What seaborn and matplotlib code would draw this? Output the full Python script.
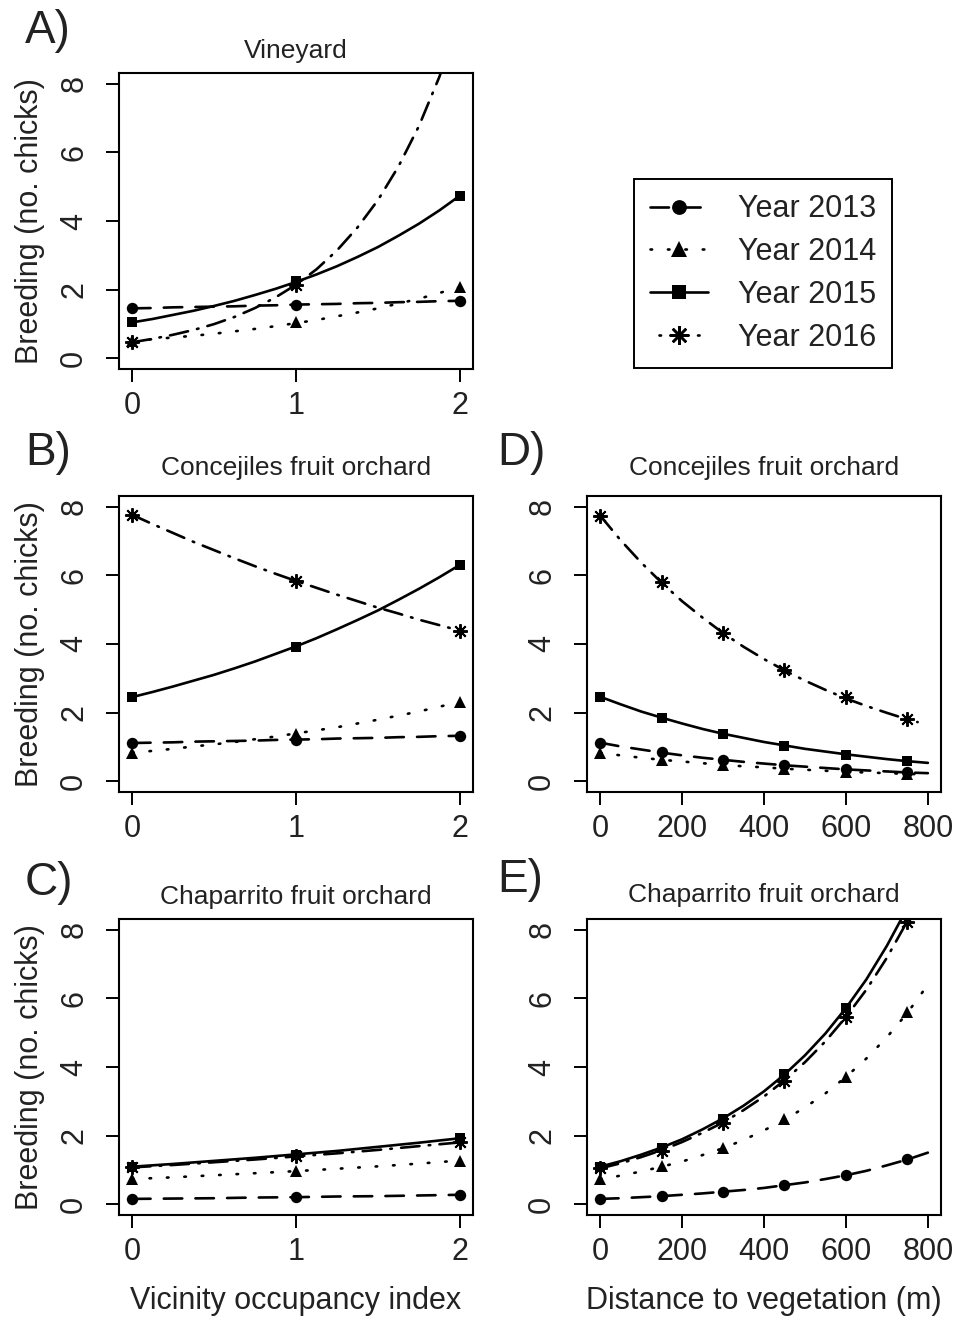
import matplotlib
matplotlib.use("Agg")
import matplotlib.pyplot as plt
from matplotlib.lines import Line2D
import seaborn as sns

sns.set_style("ticks")
plt.rcParams["font.family"] = ["Liberation Sans", "DejaVu Sans"]
TXT = "#222222"

years = ["Year 2013", "Year 2014", "Year 2015", "Year 2016"]

# marker positions
occ_x = [0, 1, 2]
dist_x = [0, 150, 300, 450, 600, 750]
# fitted curve positions
occ_cx = [0, 0.125, 0.25, 0.375, 0.5, 0.625, 0.75, 0.875, 1,
          1.125, 1.25, 1.375, 1.5, 1.625, 1.75, 1.875, 2]
occ_cx9 = [0, 0.25, 0.5, 0.75, 1, 1.25, 1.5, 1.75, 2]
dist_cx = [0, 50, 100, 150, 200, 250, 300, 350, 400, 450, 500, 550, 600, 650, 700, 750, 800]
dist_cx16 = [0, 50, 100, 150, 200, 250, 300, 350, 400, 450, 500, 550, 600, 650, 700, 750, 775]

# A) Vineyard - vicinity occupancy
vin_pts = [[1.45, 1.56, 1.67], [0.50, 1.04, 2.07], [1.04, 2.25, 4.74], [0.46, 2.14, 9.94]]
vin_cur = [
    [1.45, 1.46, 1.48, 1.49, 1.50, 1.51, 1.53, 1.54, 1.56, 1.57, 1.58, 1.60, 1.61, 1.63, 1.64, 1.66, 1.67],
    [0.50, 0.55, 0.60, 0.65, 0.71, 0.78, 0.85, 0.93, 1.02, 1.11, 1.22, 1.33, 1.45, 1.59, 1.73, 1.90, 2.07],
    [1.04, 1.14, 1.26, 1.38, 1.52, 1.67, 1.84, 2.02, 2.22, 2.44, 2.68, 2.95, 3.24, 3.57, 3.92, 4.31, 4.74],
    [0.46, 0.56, 0.68, 0.82, 0.99, 1.20, 1.46, 1.77, 2.14, 2.59, 3.14, 3.81, 4.61, 5.59, 6.77, 8.21, 9.94],
]
# B) Concejiles - vicinity occupancy
con_occ_pts = [[1.11, 1.21, 1.32], [0.83, 1.37, 2.31], [2.45, 3.92, 6.31], [7.77, 5.83, 4.39]]
con_occ_cur = [
    [1.11, 1.12, 1.13, 1.15, 1.16, 1.17, 1.18, 1.20, 1.21, 1.22, 1.24, 1.25, 1.26, 1.28, 1.29, 1.31, 1.32],
    [0.83, 0.88, 0.94, 1.01, 1.07, 1.14, 1.22, 1.30, 1.39, 1.48, 1.57, 1.68, 1.79, 1.91, 2.03, 2.17, 2.31],
    [2.45, 2.60, 2.76, 2.93, 3.10, 3.29, 3.49, 3.71, 3.93, 4.17, 4.43, 4.70, 4.98, 5.29, 5.61, 5.95, 6.31],
    [7.77, 7.50, 7.24, 6.98, 6.74, 6.50, 6.27, 6.05, 5.84, 5.64, 5.44, 5.25, 5.06, 4.89, 4.71, 4.55, 4.39],
]
# C) Chaparrito - vicinity occupancy
cha_occ_pts = [[0.15, 0.20, 0.27], [0.73, 0.96, 1.27], [1.09, 1.44, 1.92], [1.07, 1.39, 1.80]]
cha_occ_cur = [
    [0.15, 0.16, 0.17, 0.19, 0.20, 0.22, 0.23, 0.25, 0.27],
    [0.73, 0.78, 0.84, 0.90, 0.96, 1.03, 1.10, 1.18, 1.27],
    [1.09, 1.17, 1.26, 1.35, 1.45, 1.55, 1.67, 1.79, 1.92],
    [1.07, 1.14, 1.22, 1.30, 1.39, 1.48, 1.58, 1.69, 1.80],
]
# D) Concejiles - distance to vegetation
con_dist_pts = [
    [1.12, 0.84, 0.62, 0.46, 0.35, 0.26],
    [0.82, 0.62, 0.47, 0.36, 0.27, 0.21],
    [2.46, 1.84, 1.37, 1.02, 0.77, 0.58],
    [7.75, 5.80, 4.33, 3.24, 2.44, 1.80],
]
con_dist_cur = [
    [1.12, 1.01, 0.92, 0.83, 0.75, 0.68, 0.62, 0.56, 0.51, 0.46, 0.42, 0.38, 0.34, 0.31, 0.28, 0.25, 0.23],
    [0.82, 0.75, 0.68, 0.62, 0.57, 0.52, 0.47, 0.43, 0.40, 0.36, 0.33, 0.30, 0.27, 0.25, 0.23, 0.21, 0.19],
    [2.46, 2.24, 2.03, 1.85, 1.68, 1.52, 1.38, 1.26, 1.14, 1.04, 0.94, 0.86, 0.78, 0.71, 0.64, 0.58, 0.53],
    [7.75, 7.03, 6.38, 5.79, 5.25, 4.77, 4.32, 3.92, 3.56, 3.23, 2.93, 2.66, 2.41, 2.19, 1.99, 1.80, 1.72],
]
# E) Chaparrito - distance to vegetation
cha_dist_pts = [
    [0.15, 0.23, 0.36, 0.56, 0.86, 1.31],
    [0.72, 1.12, 1.65, 2.48, 3.70, 5.60],
    [1.09, 1.65, 2.48, 3.80, 5.72, 8.70],
    [1.04, 1.56, 2.38, 3.60, 5.45, 8.22],
]
cha_dist_cur = [
    [0.15, 0.17, 0.20, 0.23, 0.27, 0.31, 0.36, 0.41, 0.47, 0.55, 0.63, 0.73, 0.84, 0.97, 1.13, 1.30, 1.50],
    [0.72, 0.83, 0.95, 1.09, 1.24, 1.43, 1.63, 1.87, 2.15, 2.46, 2.82, 3.23, 3.71, 4.25, 4.87, 5.58, 6.40],
    [1.09, 1.25, 1.44, 1.65, 1.89, 2.18, 2.50, 2.87, 3.29, 3.78, 4.34, 4.98, 5.72, 6.56, 7.54, 8.65, 9.93],
    [1.04, 1.19, 1.37, 1.57, 1.81, 2.08, 2.38, 2.74, 3.14, 3.61, 4.14, 4.75, 5.46, 6.26, 7.19, 8.26, 9.48],
]

styles = [
    dict(ls=(0, (7, 5)), leg_ls=(0, (7, 5)), marker="o", ms=8.2, mew=0),
    dict(ls=(0, (0.6, 6)), leg_ls=(0, (0.6, 6)), marker="^", ms=8.4, mew=0),
    dict(ls="-", leg_ls="-", marker="s", ms=7.8, mew=0),
    dict(ls=(0, (7, 3.5, 0.6, 3.5)), leg_ls=(7.1, (7, 3.5, 0.6, 3.5)), marker=(8, 2, 0), ms=10.5, mew=1.4),
]

fig = plt.figure(figsize=(9.66, 13.18), dpi=100)
W, H = 966, 1318


def add_ax(left, top, right, bottom):
    return fig.add_axes([left / W, 1 - bottom / H, (right - left) / W, (bottom - top) / H])


def panel(ax, px, pts, cx, curves, xlim, xticks, title, tpad, ylabel=True, cx_last=None):
    for i in range(4):
        st = styles[i]
        xs = cx_last if (cx_last is not None and i == 3) else cx
        sns.lineplot(x=xs, y=curves[i], ax=ax, color="black", linewidth=1.9,
                     linestyle=st["ls"], dash_capstyle="round", estimator=None, sort=False)
        sns.lineplot(x=px, y=pts[i], ax=ax, color="black", linestyle="none", marker=st["marker"],
                     markersize=st["ms"], markerfacecolor="black", markeredgecolor="black",
                     markeredgewidth=st["mew"], estimator=None, sort=False)
    ax.set_xlim(*xlim)
    ax.set_ylim(-0.32, 8.32)
    ax.set_xticks(xticks)
    ax.set_xticklabels([str(t) for t in xticks])
    ax.set_yticks([0, 2, 4, 6, 8])
    ax.set_yticklabels(["0", "2", "4", "6", "8"], rotation=90, va="center")
    ax.tick_params(axis="both", length=9.5, width=1.4, labelsize=22, colors="black", labelcolor=TXT)
    ax.tick_params(axis="x", pad=6)
    ax.tick_params(axis="y", pad=12)
    for s in ax.spines.values():
        s.set_visible(True)
        s.set_linewidth(1.5)
        s.set_color("black")
    ax.set_title(title, fontsize=19, color=TXT, pad=tpad)
    if ylabel:
        ax.set_ylabel("Breeding (no. chicks)", fontsize=22, color=TXT, labelpad=10)
    else:
        ax.set_ylabel("")
    ax.set_xlabel("")


axA = add_ax(119, 73, 473, 369)
axB = add_ax(119, 496, 473, 792)
axC = add_ax(119, 919, 473, 1215)
axD = add_ax(587, 496, 941, 792)
axE = add_ax(587, 919, 941, 1215)

occ_lim = (-0.08, 2.08)
dist_lim = (-32, 832)
panel(axA, occ_x, vin_pts, occ_cx, vin_cur, occ_lim, [0, 1, 2], "Vineyard", 11)
panel(axB, occ_x, con_occ_pts, occ_cx, con_occ_cur, occ_lim, [0, 1, 2], "Concejiles fruit orchard", 15)
panel(axC, occ_x, cha_occ_pts, occ_cx9, cha_occ_cur, occ_lim, [0, 1, 2], "Chaparrito fruit orchard", 11)
panel(axD, dist_x, con_dist_pts, dist_cx, con_dist_cur, dist_lim, [0, 200, 400, 600, 800],
      "Concejiles fruit orchard", 15, ylabel=False, cx_last=dist_cx16)
panel(axE, dist_x, cha_dist_pts, dist_cx, cha_dist_cur, dist_lim, [0, 200, 400, 600, 800],
      "Chaparrito fruit orchard", 12, ylabel=False)

axC.set_xlabel("Vicinity occupancy index", fontsize=22, color=TXT, labelpad=14)
axE.set_xlabel("Distance to vegetation (m)", fontsize=22, color=TXT, labelpad=14)

# panel letters
for lab, x, y in [("A)", 25, 43), ("B)", 25, 465), ("C)", 25, 895), ("D)", 497, 465), ("E)", 497, 892)]:
    fig.text(x / W, 1 - y / H, lab, fontsize=33, color=TXT, ha="left", va="baseline")

# legend
handles = [
    Line2D([], [], color="black", linewidth=1.9, linestyle=st["leg_ls"], dash_capstyle="round",
           marker=st["marker"], markersize=st["ms"] * 1.3, markerfacecolor="black",
           markeredgecolor="black", markeredgewidth=st["mew"] * 1.3)
    for st in styles
]
leg = fig.legend(handles, years, loc="center", bbox_to_anchor=(763 / W, 1 - 273.5 / H),
                 fontsize=22, frameon=True, fancybox=False, framealpha=1, edgecolor="black",
                 handlelength=1.9, handletextpad=1.0, labelspacing=0.42, borderpad=0.5,
                 borderaxespad=0)
leg.get_frame().set_linewidth(1.4)
for t in leg.get_texts():
    t.set_color(TXT)

fig.savefig("out.png", dpi=100)
